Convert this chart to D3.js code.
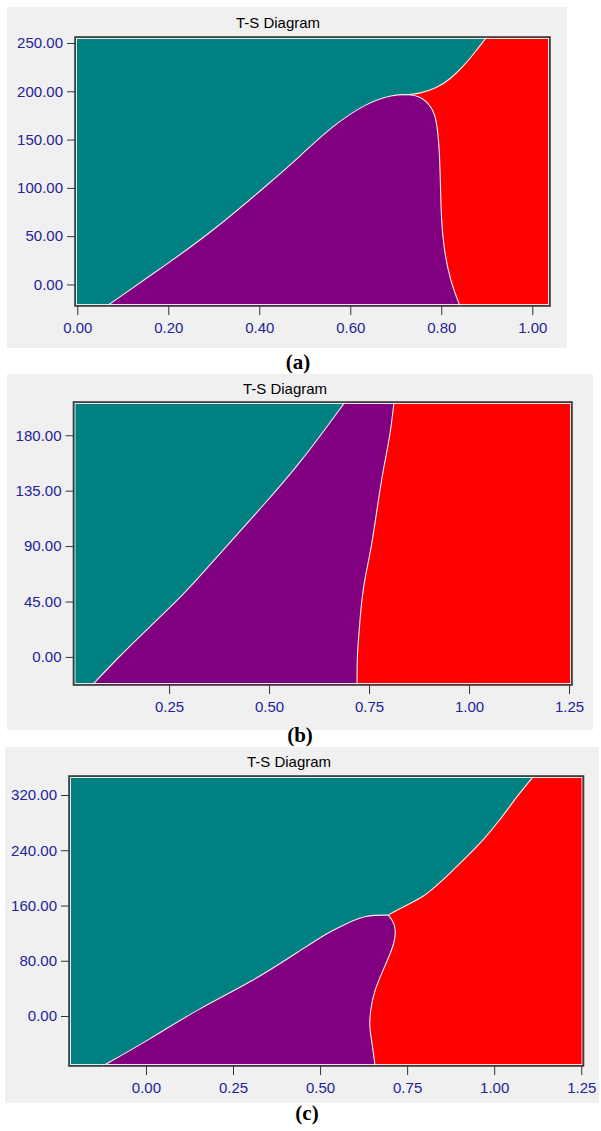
<!DOCTYPE html>
<html>
<head>
<meta charset="utf-8">
<script src="https://cdn.jsdelivr.net/npm/d3@7"></script>
<style>
  body { margin: 0; background: #fff; }
  svg { display: block; }
  .tick text { font-family: "Liberation Sans", Arial, sans-serif; font-size: 15px; fill: #23239a; }
  .tick line { stroke: #333; }
</style>
</head>
<body>
<svg id="chart" width="601" height="1131"></svg>
<script>
const chartTitle = "T-S Diagram";
const panelLabels = ["(a)", "(b)", "(c)"];

// panel (a) - boundaries as [S, T] points
const aXTicks = [0, 0.2, 0.4, 0.6, 0.8, 1.0];
const aYTicks = [0, 50, 100, 150, 200, 250];
const aTealPurple = [[0.065, -22.3], [0.20, 22], [0.30, 56], [0.43, 108], [0.49, 133], [0.56, 164], [0.636, 188], [0.694, 196.5], [0.724, 196.5]];
const aPurpleRed = [[0.724, 196.5], [0.753, 195.5], [0.779, 184], [0.79, 170.5], [0.796, 139.5], [0.798, 108], [0.80, 67], [0.806, 36], [0.819, 5], [0.841, -22.3]];
const aTealRed = [[0.724, 196.5], [0.753, 197.5], [0.79, 203.5], [0.819, 212], [0.856, 229.5], [0.878, 243], [0.90, 256.2]];

// panel (b)
const bXTicks = [0.25, 0.5, 0.75, 1.0, 1.25];
const bYTicks = [0, 45, 90, 135, 180];
const bTealPurple = [[0.058, -22.8], [0.121, -1], [0.20, 24], [0.294, 53], [0.385, 87], [0.48, 121], [0.5775, 157], [0.69, 207]];
const bPurpleRed = [[0.8125, 207], [0.8025, 179], [0.785, 152], [0.77, 120], [0.755, 87], [0.74, 65], [0.731, 45], [0.725, 20], [0.72, 0], [0.72, -22.8]];
const bTealRed = [];

// panel (c)
const cXTicks = [0, 0.25, 0.5, 0.75, 1.0, 1.25];
const cYTicks = [0, 80, 160, 240, 320];
const cTealPurple = [[-0.124, -72.4], [0.01, -34], [0.155, 12], [0.30, 48], [0.45, 97], [0.519, 120], [0.577, 134], [0.629, 146], [0.696, 146]];
const cPurpleRed = [[0.696, 146], [0.716, 134], [0.717, 110], [0.697, 85], [0.677, 62], [0.655, 35], [0.645, 10], [0.641, -14], [0.648, -35], [0.658, -72.4]];
const cTealRed = [[0.696, 146], [0.701, 148], [0.759, 163], [0.797, 173], [0.826, 185], [0.874, 207], [0.922, 231], [0.969, 255], [1.017, 284], [1.065, 318], [1.114, 347.5]];

const colors = { teal: "#008080", purple: "#800080", red: "#ff0000", panel: "#f0f0f0" };

// layout of each panel in pixels
const panels = [
  { box: [7, 7, 567, 348], plot: [75, 37, 550, 306], xDom: [-0.005, 1.039], yDom: [-22.3, 256.2],
    xTicks: aXTicks, yTicks: aYTicks, tp: aTealPurple, pr: aPurpleRed, tr: aTealRed,
    titleX: 278, titleY: 28, labelX: 298, labelY: 369 },
  { box: [7, 374, 593, 730], plot: [73.5, 402, 572, 685], xDom: [0.011, 1.2575], yDom: [-22.8, 207],
    xTicks: bXTicks, yTicks: bYTicks, tp: bTealPurple, pr: bPurpleRed, tr: bTealRed,
    titleX: 285, titleY: 394, labelX: 300, labelY: 742 },
  { box: [5, 747, 599, 1103], plot: [69, 776, 583.5, 1066], xDom: [-0.221, 1.2565], yDom: [-72.4, 347.5],
    xTicks: cXTicks, yTicks: cYTicks, tp: cTealPurple, pr: cPurpleRed, tr: cTealRed,
    titleX: 289, titleY: 767, labelX: 307, labelY: 1120 }
];

const svg = d3.select("#chart");

panels.forEach((p, i) => {
  const g = svg.append("g");
  const [l, t, r, b] = p.plot;

  g.append("rect")
    .attr("x", p.box[0]).attr("y", p.box[1])
    .attr("width", p.box[2] - p.box[0]).attr("height", p.box[3] - p.box[1])
    .attr("fill", colors.panel);

  const x = d3.scaleLinear().domain(p.xDom).range([l, r]);
  const y = d3.scaleLinear().domain(p.yDom).range([b, t]);
  const curved = d3.line().x(d => x(d[0])).y(d => y(d[1])).curve(d3.curveBasis);
  const straight = d3.line().x(d => x(d[0])).y(d => y(d[1]));

  // joins several pieces into one closed outline
  const outline = segs => segs.filter(s => s.d.length).map((s, k) => {
    const d = (s.smooth ? curved : straight)(s.d);
    return k ? d.replace(/^M/, "L") : d;
  }).join("") + "Z";

  g.append("clipPath").attr("id", "clip" + i)
    .append("rect").attr("x", l).attr("y", t).attr("width", r - l).attr("height", b - t);
  const area = g.append("g").attr("clip-path", `url(#clip${i})`);

  area.append("rect")
    .attr("x", l).attr("y", t).attr("width", r - l).attr("height", b - t)
    .attr("fill", colors.teal);

  area.append("path")
    .attr("d", outline([{ d: p.tp, smooth: true }, { d: p.pr, smooth: true }]))
    .attr("fill", colors.purple);

  area.append("path")
    .attr("d", outline([
      { d: p.pr.slice().reverse(), smooth: true },
      { d: p.tr, smooth: true },
      { d: [[p.xDom[1], p.yDom[1]], [p.xDom[1], p.yDom[0]]], smooth: false }
    ]))
    .attr("fill", colors.red);

  [p.tp, p.pr, p.tr].filter(s => s.length).forEach(s => {
    area.append("path")
      .attr("d", curved(s))
      .attr("fill", "none")
      .attr("stroke", "#f6eef6")
      .attr("stroke-width", 1.1);
  });

  // frame: light inner line, dark outer line
  g.append("rect")
    .attr("x", l + 1.5).attr("y", t + 1.5).attr("width", r - l - 3).attr("height", b - t - 3)
    .attr("fill", "none").attr("stroke", "#e8e8e8").attr("stroke-width", 1);
  g.append("rect")
    .attr("x", l).attr("y", t).attr("width", r - l).attr("height", b - t)
    .attr("fill", "none").attr("stroke", "#3c3c3c").attr("stroke-width", 1.6);

  const fmt = d3.format(".2f");
  g.append("g")
    .attr("transform", `translate(0,${b})`)
    .call(d3.axisBottom(x).tickValues(p.xTicks).tickFormat(fmt).tickSize(9).tickPadding(7))
    .call(s => s.select(".domain").remove());
  g.append("g")
    .attr("transform", `translate(${l},0)`)
    .call(d3.axisLeft(y).tickValues(p.yTicks).tickFormat(fmt).tickSize(8).tickPadding(4))
    .call(s => s.select(".domain").remove());

  g.append("text")
    .attr("x", p.titleX).attr("y", p.titleY)
    .attr("text-anchor", "middle")
    .attr("font-family", "'Liberation Sans', Arial, sans-serif")
    .attr("font-size", 15)
    .attr("fill", "#000")
    .text(chartTitle);

  svg.append("text")
    .attr("x", p.labelX).attr("y", p.labelY)
    .attr("text-anchor", "middle")
    .attr("font-family", "'Liberation Serif', 'Times New Roman', serif")
    .attr("font-weight", "bold")
    .attr("font-size", 21)
    .attr("fill", "#000")
    .text(panelLabels[i]);
});
</script>
</body>
</html>
